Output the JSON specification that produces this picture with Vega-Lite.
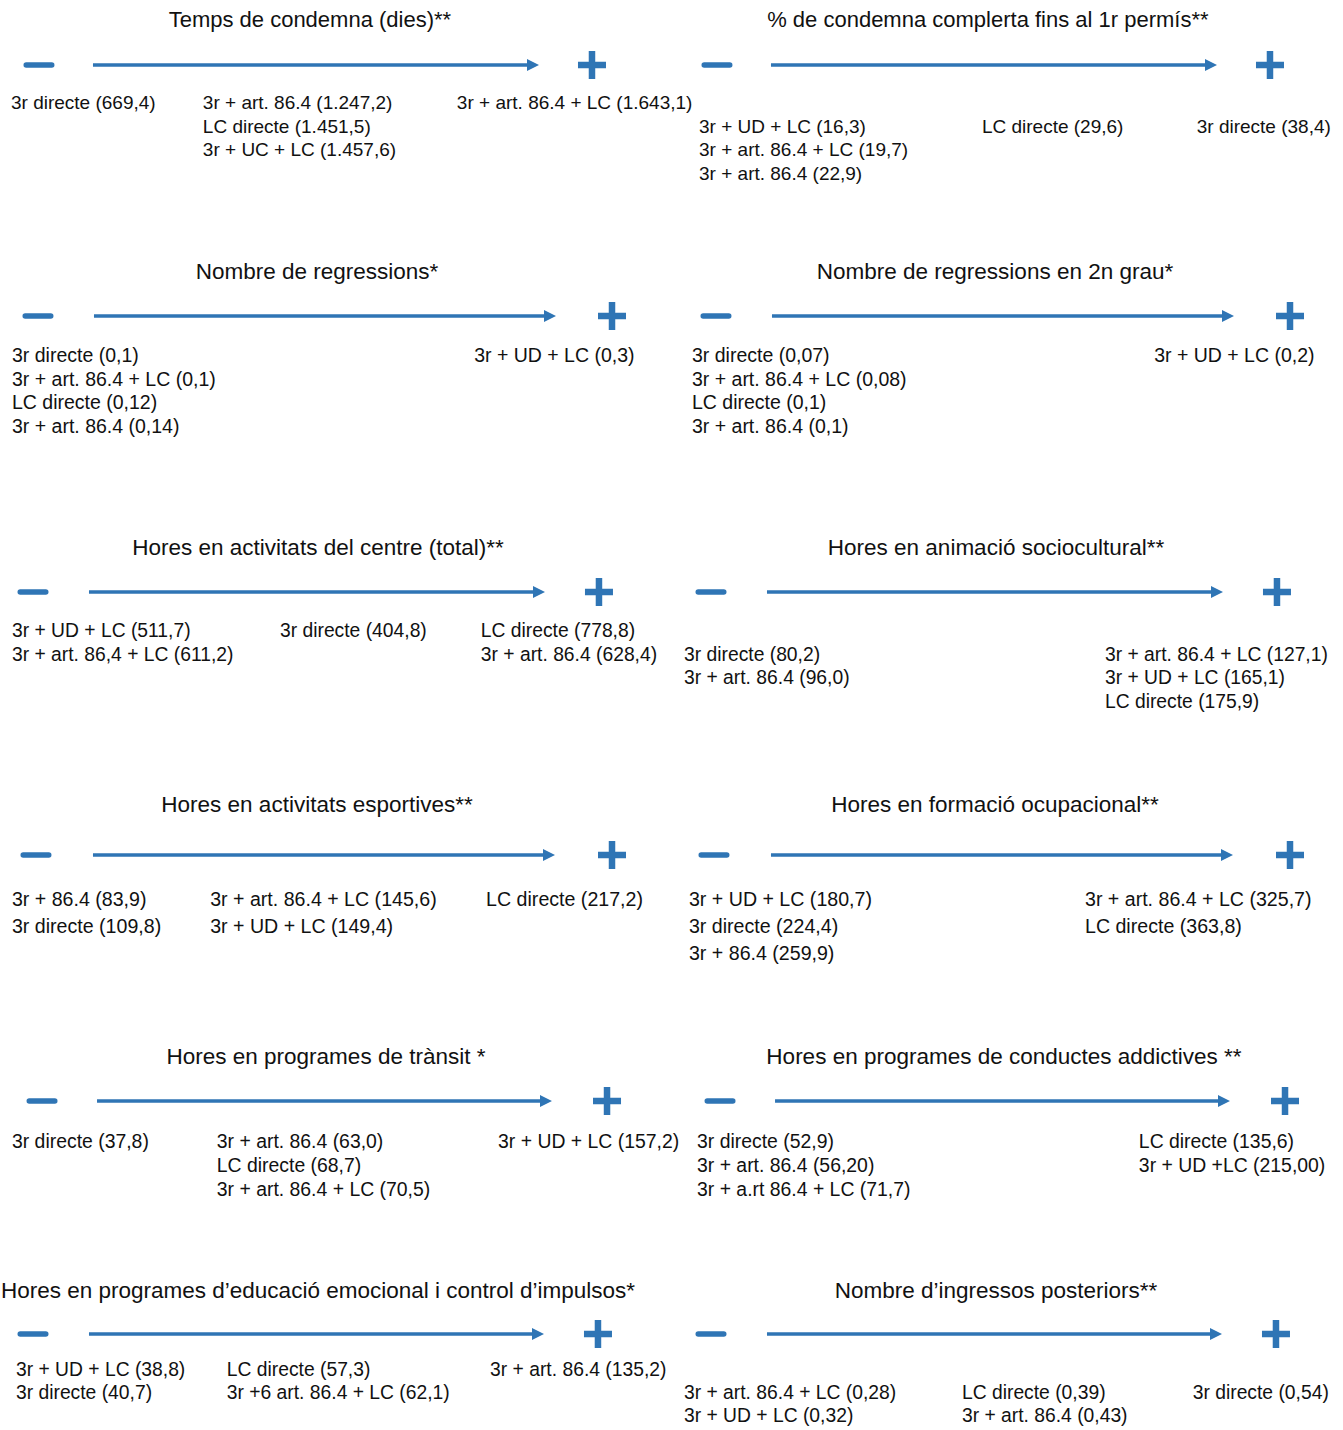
{
  "$schema": "https://vega.github.io/schema/vega-lite/v6.json",
  "padding": 0,
  "background": "white",
  "config": {"view": {"stroke": null}, "text": {"font": "Liberation Sans"}},
  "datasets": {
    "items": [
      {"kind": "panel", "panel": 1, "row": 1, "col": 1, "text": "Temps de condemna (dies)**"},
      {"kind": "panel", "panel": 2, "row": 1, "col": 2, "text": "% de condemna complerta fins al 1r permís**"},
      {"kind": "panel", "panel": 3, "row": 2, "col": 1, "text": "Nombre de regressions*"},
      {"kind": "panel", "panel": 4, "row": 2, "col": 2, "text": "Nombre de regressions en 2n grau*"},
      {"kind": "panel", "panel": 5, "row": 3, "col": 1, "text": "Hores en activitats del centre (total)**"},
      {"kind": "panel", "panel": 6, "row": 3, "col": 2, "text": "Hores en animació sociocultural**"},
      {"kind": "panel", "panel": 7, "row": 4, "col": 1, "text": "Hores en activitats esportives**"},
      {"kind": "panel", "panel": 8, "row": 4, "col": 2, "text": "Hores en formació ocupacional**"},
      {"kind": "panel", "panel": 9, "row": 5, "col": 1, "text": "Hores en programes de trànsit *"},
      {"kind": "panel", "panel": 10, "row": 5, "col": 2, "text": "Hores en programes de conductes addictives **"},
      {"kind": "panel", "panel": 11, "row": 6, "col": 1, "text": "Hores en programes d’educació emocional i control d’impulsos*"},
      {"kind": "panel", "panel": 12, "row": 6, "col": 2, "text": "Nombre d’ingressos posteriors**"},

      {"kind": "label", "panel": 1, "row": 1, "col": 1, "pos": 1.35, "line": 1, "text": "3r directe (669,4)"},
      {"kind": "label", "panel": 1, "row": 1, "col": 1, "pos": 30.2, "line": 1, "text": "3r + art. 86.4 (1.247,2)"},
      {"kind": "label", "panel": 1, "row": 1, "col": 1, "pos": 30.2, "line": 2, "text": "LC directe (1.451,5)"},
      {"kind": "label", "panel": 1, "row": 1, "col": 1, "pos": 30.2, "line": 3, "text": "3r + UC + LC (1.457,6)"},
      {"kind": "label", "panel": 1, "row": 1, "col": 1, "pos": 68.4, "line": 1, "text": "3r + art. 86.4 + LC (1.643,1)"},

      {"kind": "label", "panel": 2, "row": 1, "col": 2, "pos": 2.86, "line": 2, "text": "3r + UD + LC (16,3)"},
      {"kind": "label", "panel": 2, "row": 1, "col": 2, "pos": 2.86, "line": 3, "text": "3r + art. 86.4 + LC (19,7)"},
      {"kind": "label", "panel": 2, "row": 1, "col": 2, "pos": 2.86, "line": 4, "text": "3r + art. 86.4 (22,9)"},
      {"kind": "label", "panel": 2, "row": 1, "col": 2, "pos": 45.4, "line": 2, "text": "LC directe (29,6)"},
      {"kind": "label", "panel": 2, "row": 1, "col": 2, "pos": 77.7, "line": 2, "text": "3r directe (38,4)"},

      {"kind": "label", "panel": 3, "row": 2, "col": 1, "pos": 1.5, "line": 1, "text": "3r directe (0,1)"},
      {"kind": "label", "panel": 3, "row": 2, "col": 1, "pos": 1.5, "line": 2, "text": "3r + art. 86.4 + LC (0,1)"},
      {"kind": "label", "panel": 3, "row": 2, "col": 1, "pos": 1.5, "line": 3, "text": "LC directe (0,12)"},
      {"kind": "label", "panel": 3, "row": 2, "col": 1, "pos": 1.5, "line": 4, "text": "3r + art. 86.4 (0,14)"},
      {"kind": "label", "panel": 3, "row": 2, "col": 1, "pos": 71.0, "line": 1, "text": "3r + UD + LC (0,3)"},

      {"kind": "label", "panel": 4, "row": 2, "col": 2, "pos": 1.8, "line": 1, "text": "3r directe (0,07)"},
      {"kind": "label", "panel": 4, "row": 2, "col": 2, "pos": 1.8, "line": 2, "text": "3r + art. 86.4 + LC (0,08)"},
      {"kind": "label", "panel": 4, "row": 2, "col": 2, "pos": 1.8, "line": 3, "text": "LC directe (0,1)"},
      {"kind": "label", "panel": 4, "row": 2, "col": 2, "pos": 1.8, "line": 4, "text": "3r + art. 86.4 (0,1)"},
      {"kind": "label", "panel": 4, "row": 2, "col": 2, "pos": 71.3, "line": 1, "text": "3r + UD + LC (0,2)"},

      {"kind": "label", "panel": 5, "row": 3, "col": 1, "pos": 1.5, "line": 1, "text": "3r + UD + LC (511,7)"},
      {"kind": "label", "panel": 5, "row": 3, "col": 1, "pos": 1.5, "line": 2, "text": "3r + art. 86,4 + LC (611,2)"},
      {"kind": "label", "panel": 5, "row": 3, "col": 1, "pos": 41.8, "line": 1, "text": "3r directe (404,8)"},
      {"kind": "label", "panel": 5, "row": 3, "col": 1, "pos": 72.0, "line": 1, "text": "LC directe (778,8)"},
      {"kind": "label", "panel": 5, "row": 3, "col": 1, "pos": 72.0, "line": 2, "text": "3r + art. 86.4 (628,4)"},

      {"kind": "label", "panel": 6, "row": 3, "col": 2, "pos": 0.6, "line": 2, "text": "3r directe (80,2)"},
      {"kind": "label", "panel": 6, "row": 3, "col": 2, "pos": 0.6, "line": 3, "text": "3r + art. 86.4 (96,0)"},
      {"kind": "label", "panel": 6, "row": 3, "col": 2, "pos": 63.9, "line": 2, "text": "3r + art. 86.4 + LC (127,1)"},
      {"kind": "label", "panel": 6, "row": 3, "col": 2, "pos": 63.9, "line": 3, "text": "3r + UD + LC (165,1)"},
      {"kind": "label", "panel": 6, "row": 3, "col": 2, "pos": 63.9, "line": 4, "text": "LC directe (175,9)"},

      {"kind": "label", "panel": 7, "row": 4, "col": 1, "pos": 1.5, "line": 1, "text": "3r + 86.4 (83,9)"},
      {"kind": "label", "panel": 7, "row": 4, "col": 1, "pos": 1.5, "line": 2, "text": "3r directe (109,8)"},
      {"kind": "label", "panel": 7, "row": 4, "col": 1, "pos": 31.3, "line": 1, "text": "3r + art. 86.4 + LC (145,6)"},
      {"kind": "label", "panel": 7, "row": 4, "col": 1, "pos": 31.3, "line": 2, "text": "3r + UD + LC (149,4)"},
      {"kind": "label", "panel": 7, "row": 4, "col": 1, "pos": 72.8, "line": 1, "text": "LC directe (217,2)"},

      {"kind": "label", "panel": 8, "row": 4, "col": 2, "pos": 1.35, "line": 1, "text": "3r + UD + LC (180,7)"},
      {"kind": "label", "panel": 8, "row": 4, "col": 2, "pos": 1.35, "line": 2, "text": "3r directe (224,4)"},
      {"kind": "label", "panel": 8, "row": 4, "col": 2, "pos": 1.35, "line": 3, "text": "3r + 86.4 (259,9)"},
      {"kind": "label", "panel": 8, "row": 4, "col": 2, "pos": 60.9, "line": 1, "text": "3r + art. 86.4 + LC (325,7)"},
      {"kind": "label", "panel": 8, "row": 4, "col": 2, "pos": 60.9, "line": 2, "text": "LC directe (363,8)"},

      {"kind": "label", "panel": 9, "row": 5, "col": 1, "pos": 1.5, "line": 1, "text": "3r directe (37,8)"},
      {"kind": "label", "panel": 9, "row": 5, "col": 1, "pos": 32.3, "line": 1, "text": "3r + art. 86.4 (63,0)"},
      {"kind": "label", "panel": 9, "row": 5, "col": 1, "pos": 32.3, "line": 2, "text": "LC directe (68,7)"},
      {"kind": "label", "panel": 9, "row": 5, "col": 1, "pos": 32.3, "line": 3, "text": "3r + art. 86.4 + LC (70,5)"},
      {"kind": "label", "panel": 9, "row": 5, "col": 1, "pos": 74.6, "line": 1, "text": "3r + UD + LC (157,2)"},

      {"kind": "label", "panel": 10, "row": 5, "col": 2, "pos": 2.56, "line": 1, "text": "3r directe (52,9)"},
      {"kind": "label", "panel": 10, "row": 5, "col": 2, "pos": 2.56, "line": 2, "text": "3r + art. 86.4 (56,20)"},
      {"kind": "label", "panel": 10, "row": 5, "col": 2, "pos": 2.56, "line": 3, "text": "3r + a.rt 86.4 + LC (71,7)"},
      {"kind": "label", "panel": 10, "row": 5, "col": 2, "pos": 69.0, "line": 1, "text": "LC directe (135,6)"},
      {"kind": "label", "panel": 10, "row": 5, "col": 2, "pos": 69.0, "line": 2, "text": "3r + UD +LC (215,00)"},

      {"kind": "label", "panel": 11, "row": 6, "col": 1, "pos": 2.1, "line": 1, "text": "3r + UD + LC (38,8)"},
      {"kind": "label", "panel": 11, "row": 6, "col": 1, "pos": 2.1, "line": 2, "text": "3r directe (40,7)"},
      {"kind": "label", "panel": 11, "row": 6, "col": 1, "pos": 33.8, "line": 1, "text": "LC directe (57,3)"},
      {"kind": "label", "panel": 11, "row": 6, "col": 1, "pos": 33.8, "line": 2, "text": "3r +6 art. 86.4 + LC (62,1)"},
      {"kind": "label", "panel": 11, "row": 6, "col": 1, "pos": 73.4, "line": 1, "text": "3r + art. 86.4 (135,2)"},

      {"kind": "label", "panel": 12, "row": 6, "col": 2, "pos": 0.6, "line": 2, "text": "3r + art. 86.4 + LC (0,28)"},
      {"kind": "label", "panel": 12, "row": 6, "col": 2, "pos": 0.6, "line": 3, "text": "3r + UD + LC (0,32)"},
      {"kind": "label", "panel": 12, "row": 6, "col": 2, "pos": 42.4, "line": 2, "text": "LC directe (0,39)"},
      {"kind": "label", "panel": 12, "row": 6, "col": 2, "pos": 42.4, "line": 3, "text": "3r + art. 86.4 (0,43)"},
      {"kind": "label", "panel": 12, "row": 6, "col": 2, "pos": 77.1, "line": 2, "text": "3r directe (0,54)"}
    ]
  },
  "spacing": 0,
  "resolve": {"scale": {"x": "independent", "y": "independent"}},
  "vconcat": [
    {
      "data": {"name": "items"},
      "transform": [{"filter": "datum.row == 1"}],
      "facet": {"column": {"field": "col", "type": "ordinal", "header": null}},
      "spacing": 13,
      "bounds": "flush",
      "spec": {
        "width": 665, "height": 252,
        "layer": [
          {"transform": [{"filter": "datum.kind == 'panel'"}],
           "mark": {"type": "text", "align": "center", "baseline": "middle", "fontSize": 22, "color": "#111"},
           "encoding": {"x": {"datum": 46.3, "type": "quantitative", "scale": {"domain": [0, 100], "nice": false, "zero": false}, "axis": null},
                        "y": {"datum": -2.532, "type": "quantitative", "scale": {"domain": [-3.383, 7.34], "reverse": true, "nice": false, "zero": false}, "axis": null},
                        "text": {"field": "text"}}},
          {"transform": [{"filter": "datum.kind == 'panel'"}],
           "mark": {"type": "point", "shape": "M-1,0H1", "filled": false, "strokeWidth": 5.5, "strokeCap": "round", "size": 650, "color": "#2F75B5", "opacity": 1},
           "encoding": {"x": {"datum": 5.56, "type": "quantitative", "scale": {"domain": [0, 100], "nice": false, "zero": false}, "axis": null},
                        "y": {"datum": -0.617, "type": "quantitative", "scale": {"domain": [-3.383, 7.34], "reverse": true, "nice": false, "zero": false}, "axis": null}}},
          {"transform": [{"filter": "datum.kind == 'panel'"}],
           "mark": {"type": "rule", "strokeWidth": 3.5, "color": "#2F75B5"},
           "encoding": {"x": {"datum": 13.68, "type": "quantitative", "scale": {"domain": [0, 100], "nice": false, "zero": false}, "axis": null},
                        "x2": {"datum": 79.85},
                        "y": {"datum": -0.617, "type": "quantitative", "scale": {"domain": [-3.383, 7.34], "reverse": true, "nice": false, "zero": false}, "axis": null}}},
          {"transform": [{"filter": "datum.kind == 'panel'"}],
           "mark": {"type": "point", "shape": "M-1,-1L1,0L-1,1Z", "filled": true, "size": 144, "strokeWidth": 0, "color": "#2F75B5", "opacity": 1},
           "encoding": {"x": {"datum": 79.85, "type": "quantitative", "scale": {"domain": [0, 100], "nice": false, "zero": false}, "axis": null},
                        "y": {"datum": -0.617, "type": "quantitative", "scale": {"domain": [-3.383, 7.34], "reverse": true, "nice": false, "zero": false}, "axis": null}}},
          {"transform": [{"filter": "datum.kind == 'panel'"}],
           "mark": {"type": "point", "shape": "M-1,0H1M0,-1V1", "filled": false, "strokeWidth": 6.5, "size": 784, "color": "#2F75B5", "opacity": 1},
           "encoding": {"x": {"datum": 88.72, "type": "quantitative", "scale": {"domain": [0, 100], "nice": false, "zero": false}, "axis": null},
                        "y": {"datum": -0.617, "type": "quantitative", "scale": {"domain": [-3.383, 7.34], "reverse": true, "nice": false, "zero": false}, "axis": null}}},
          {"transform": [{"filter": "datum.kind == 'label'"}],
           "mark": {"type": "text", "align": "left", "baseline": "middle", "fontSize": 19, "color": "#111"},
           "encoding": {"x": {"field": "pos", "type": "quantitative", "scale": {"domain": [0, 100], "nice": false, "zero": false}, "axis": null},
                        "y": {"field": "line", "type": "quantitative", "scale": {"domain": [-3.383, 7.34], "reverse": true, "nice": false, "zero": false}, "axis": null},
                        "text": {"field": "text"}}}
        ]
      }
    },
    {
      "data": {"name": "items"},
      "transform": [{"filter": "datum.row == 2"}],
      "facet": {"column": {"field": "col", "type": "ordinal", "header": null}},
      "spacing": 13,
      "bounds": "flush",
      "spec": {
        "width": 665, "height": 276,
        "layer": [
          {"transform": [{"filter": "datum.kind == 'panel'"}],
           "mark": {"type": "text", "align": "center", "baseline": "middle", "fontSize": 22.5, "color": "#111"},
           "encoding": {"x": {"datum": 47.37, "type": "quantitative", "scale": {"domain": [0, 100], "nice": false, "zero": false}, "axis": null},
                        "y": {"datum": -2.544, "type": "quantitative", "scale": {"domain": [-3.388, 8.257], "reverse": true, "nice": false, "zero": false}, "axis": null},
                        "text": {"field": "text"}}},
          {"transform": [{"filter": "datum.kind == 'panel'"}],
           "mark": {"type": "point", "shape": "M-1,0H1", "filled": false, "strokeWidth": 5.5, "strokeCap": "round", "size": 650, "color": "#2F75B5", "opacity": 1},
           "encoding": {"x": {"datum": 5.41, "type": "quantitative", "scale": {"domain": [0, 100], "nice": false, "zero": false}, "axis": null},
                        "y": {"datum": -0.688, "type": "quantitative", "scale": {"domain": [-3.388, 8.257], "reverse": true, "nice": false, "zero": false}, "axis": null}}},
          {"transform": [{"filter": "datum.kind == 'panel'"}],
           "mark": {"type": "rule", "strokeWidth": 3.5, "color": "#2F75B5"},
           "encoding": {"x": {"datum": 13.83, "type": "quantitative", "scale": {"domain": [0, 100], "nice": false, "zero": false}, "axis": null},
                        "x2": {"datum": 82.41},
                        "y": {"datum": -0.688, "type": "quantitative", "scale": {"domain": [-3.388, 8.257], "reverse": true, "nice": false, "zero": false}, "axis": null}}},
          {"transform": [{"filter": "datum.kind == 'panel'"}],
           "mark": {"type": "point", "shape": "M-1,-1L1,0L-1,1Z", "filled": true, "size": 144, "strokeWidth": 0, "color": "#2F75B5", "opacity": 1},
           "encoding": {"x": {"datum": 82.41, "type": "quantitative", "scale": {"domain": [0, 100], "nice": false, "zero": false}, "axis": null},
                        "y": {"datum": -0.688, "type": "quantitative", "scale": {"domain": [-3.388, 8.257], "reverse": true, "nice": false, "zero": false}, "axis": null}}},
          {"transform": [{"filter": "datum.kind == 'panel'"}],
           "mark": {"type": "point", "shape": "M-1,0H1M0,-1V1", "filled": false, "strokeWidth": 6.5, "size": 784, "color": "#2F75B5", "opacity": 1},
           "encoding": {"x": {"datum": 91.73, "type": "quantitative", "scale": {"domain": [0, 100], "nice": false, "zero": false}, "axis": null},
                        "y": {"datum": -0.688, "type": "quantitative", "scale": {"domain": [-3.388, 8.257], "reverse": true, "nice": false, "zero": false}, "axis": null}}},
          {"transform": [{"filter": "datum.kind == 'label'"}],
           "mark": {"type": "text", "align": "left", "baseline": "middle", "fontSize": 19.5, "color": "#111"},
           "encoding": {"x": {"field": "pos", "type": "quantitative", "scale": {"domain": [0, 100], "nice": false, "zero": false}, "axis": null},
                        "y": {"field": "line", "type": "quantitative", "scale": {"domain": [-3.388, 8.257], "reverse": true, "nice": false, "zero": false}, "axis": null},
                        "text": {"field": "text"}}}
        ]
      }
    },
    {
      "data": {"name": "items"},
      "transform": [{"filter": "datum.row == 3"}],
      "facet": {"column": {"field": "col", "type": "ordinal", "header": null}},
      "spacing": 13,
      "bounds": "flush",
      "spec": {
        "width": 665, "height": 257,
        "layer": [
          {"transform": [{"filter": "datum.kind == 'panel'"}],
           "mark": {"type": "text", "align": "center", "baseline": "middle", "fontSize": 22.5, "color": "#111"},
           "encoding": {"x": {"datum": 47.52, "type": "quantitative", "scale": {"domain": [0, 100], "nice": false, "zero": false}, "axis": null},
                        "y": {"datum": -2.532, "type": "quantitative", "scale": {"domain": [-3.383, 7.553], "reverse": true, "nice": false, "zero": false}, "axis": null},
                        "text": {"field": "text"}}},
          {"transform": [{"filter": "datum.kind == 'panel'"}],
           "mark": {"type": "point", "shape": "M-1,0H1", "filled": false, "strokeWidth": 5.5, "strokeCap": "round", "size": 650, "color": "#2F75B5", "opacity": 1},
           "encoding": {"x": {"datum": 4.66, "type": "quantitative", "scale": {"domain": [0, 100], "nice": false, "zero": false}, "axis": null},
                        "y": {"datum": -0.66, "type": "quantitative", "scale": {"domain": [-3.383, 7.553], "reverse": true, "nice": false, "zero": false}, "axis": null}}},
          {"transform": [{"filter": "datum.kind == 'panel'"}],
           "mark": {"type": "rule", "strokeWidth": 3.5, "color": "#2F75B5"},
           "encoding": {"x": {"datum": 13.08, "type": "quantitative", "scale": {"domain": [0, 100], "nice": false, "zero": false}, "axis": null},
                        "x2": {"datum": 80.75},
                        "y": {"datum": -0.66, "type": "quantitative", "scale": {"domain": [-3.383, 7.553], "reverse": true, "nice": false, "zero": false}, "axis": null}}},
          {"transform": [{"filter": "datum.kind == 'panel'"}],
           "mark": {"type": "point", "shape": "M-1,-1L1,0L-1,1Z", "filled": true, "size": 144, "strokeWidth": 0, "color": "#2F75B5", "opacity": 1},
           "encoding": {"x": {"datum": 80.75, "type": "quantitative", "scale": {"domain": [0, 100], "nice": false, "zero": false}, "axis": null},
                        "y": {"datum": -0.66, "type": "quantitative", "scale": {"domain": [-3.383, 7.553], "reverse": true, "nice": false, "zero": false}, "axis": null}}},
          {"transform": [{"filter": "datum.kind == 'panel'"}],
           "mark": {"type": "point", "shape": "M-1,0H1M0,-1V1", "filled": false, "strokeWidth": 6.5, "size": 784, "color": "#2F75B5", "opacity": 1},
           "encoding": {"x": {"datum": 89.77, "type": "quantitative", "scale": {"domain": [0, 100], "nice": false, "zero": false}, "axis": null},
                        "y": {"datum": -0.66, "type": "quantitative", "scale": {"domain": [-3.383, 7.553], "reverse": true, "nice": false, "zero": false}, "axis": null}}},
          {"transform": [{"filter": "datum.kind == 'label'"}],
           "mark": {"type": "text", "align": "left", "baseline": "middle", "fontSize": 19.3, "color": "#111"},
           "encoding": {"x": {"field": "pos", "type": "quantitative", "scale": {"domain": [0, 100], "nice": false, "zero": false}, "axis": null},
                        "y": {"field": "line", "type": "quantitative", "scale": {"domain": [-3.383, 7.553], "reverse": true, "nice": false, "zero": false}, "axis": null},
                        "text": {"field": "text"}}}
        ]
      }
    },
    {
      "data": {"name": "items"},
      "transform": [{"filter": "datum.row == 4"}],
      "facet": {"column": {"field": "col", "type": "ordinal", "header": null}},
      "spacing": 13,
      "bounds": "flush",
      "spec": {
        "width": 665, "height": 252,
        "layer": [
          {"transform": [{"filter": "datum.kind == 'panel'"}],
           "mark": {"type": "text", "align": "center", "baseline": "middle", "fontSize": 22.5, "color": "#111"},
           "encoding": {"x": {"datum": 47.37, "type": "quantitative", "scale": {"domain": [0, 100], "nice": false, "zero": false}, "axis": null},
                        "y": {"datum": -2.519, "type": "quantitative", "scale": {"domain": [-3.259, 6.074], "reverse": true, "nice": false, "zero": false}, "axis": null},
                        "text": {"field": "text"}}},
          {"transform": [{"filter": "datum.kind == 'panel'"}],
           "mark": {"type": "point", "shape": "M-1,0H1", "filled": false, "strokeWidth": 5.5, "strokeCap": "round", "size": 650, "color": "#2F75B5", "opacity": 1},
           "encoding": {"x": {"datum": 5.11, "type": "quantitative", "scale": {"domain": [0, 100], "nice": false, "zero": false}, "axis": null},
                        "y": {"datum": -0.667, "type": "quantitative", "scale": {"domain": [-3.259, 6.074], "reverse": true, "nice": false, "zero": false}, "axis": null}}},
          {"transform": [{"filter": "datum.kind == 'panel'"}],
           "mark": {"type": "rule", "strokeWidth": 3.5, "color": "#2F75B5"},
           "encoding": {"x": {"datum": 13.68, "type": "quantitative", "scale": {"domain": [0, 100], "nice": false, "zero": false}, "axis": null},
                        "x2": {"datum": 82.26},
                        "y": {"datum": -0.667, "type": "quantitative", "scale": {"domain": [-3.259, 6.074], "reverse": true, "nice": false, "zero": false}, "axis": null}}},
          {"transform": [{"filter": "datum.kind == 'panel'"}],
           "mark": {"type": "point", "shape": "M-1,-1L1,0L-1,1Z", "filled": true, "size": 144, "strokeWidth": 0, "color": "#2F75B5", "opacity": 1},
           "encoding": {"x": {"datum": 82.26, "type": "quantitative", "scale": {"domain": [0, 100], "nice": false, "zero": false}, "axis": null},
                        "y": {"datum": -0.667, "type": "quantitative", "scale": {"domain": [-3.259, 6.074], "reverse": true, "nice": false, "zero": false}, "axis": null}}},
          {"transform": [{"filter": "datum.kind == 'panel'"}],
           "mark": {"type": "point", "shape": "M-1,0H1M0,-1V1", "filled": false, "strokeWidth": 6.5, "size": 784, "color": "#2F75B5", "opacity": 1},
           "encoding": {"x": {"datum": 91.73, "type": "quantitative", "scale": {"domain": [0, 100], "nice": false, "zero": false}, "axis": null},
                        "y": {"datum": -0.667, "type": "quantitative", "scale": {"domain": [-3.259, 6.074], "reverse": true, "nice": false, "zero": false}, "axis": null}}},
          {"transform": [{"filter": "datum.kind == 'label'"}],
           "mark": {"type": "text", "align": "left", "baseline": "middle", "fontSize": 19.6, "color": "#111"},
           "encoding": {"x": {"field": "pos", "type": "quantitative", "scale": {"domain": [0, 100], "nice": false, "zero": false}, "axis": null},
                        "y": {"field": "line", "type": "quantitative", "scale": {"domain": [-3.259, 6.074], "reverse": true, "nice": false, "zero": false}, "axis": null},
                        "text": {"field": "text"}}}
        ]
      }
    },
    {
      "data": {"name": "items"},
      "transform": [{"filter": "datum.row == 5"}],
      "facet": {"column": {"field": "col", "type": "ordinal", "header": null}},
      "spacing": 13,
      "bounds": "flush",
      "spec": {
        "width": 665, "height": 234,
        "layer": [
          {"transform": [{"filter": "datum.kind == 'panel'"}],
           "mark": {"type": "text", "align": "center", "baseline": "middle", "fontSize": 22.5, "color": "#111"},
           "encoding": {"x": {"datum": 48.72, "type": "quantitative", "scale": {"domain": [0, 100], "nice": false, "zero": false}, "axis": null},
                        "y": {"datum": -2.542, "type": "quantitative", "scale": {"domain": [-3.375, 6.375], "reverse": true, "nice": false, "zero": false}, "axis": null},
                        "text": {"field": "text"}}},
          {"transform": [{"filter": "datum.kind == 'panel'"}],
           "mark": {"type": "point", "shape": "M-1,0H1", "filled": false, "strokeWidth": 5.5, "strokeCap": "round", "size": 650, "color": "#2F75B5", "opacity": 1},
           "encoding": {"x": {"datum": 6.02, "type": "quantitative", "scale": {"domain": [0, 100], "nice": false, "zero": false}, "axis": null},
                        "y": {"datum": -0.708, "type": "quantitative", "scale": {"domain": [-3.375, 6.375], "reverse": true, "nice": false, "zero": false}, "axis": null}}},
          {"transform": [{"filter": "datum.kind == 'panel'"}],
           "mark": {"type": "rule", "strokeWidth": 3.5, "color": "#2F75B5"},
           "encoding": {"x": {"datum": 14.29, "type": "quantitative", "scale": {"domain": [0, 100], "nice": false, "zero": false}, "axis": null},
                        "x2": {"datum": 81.8},
                        "y": {"datum": -0.708, "type": "quantitative", "scale": {"domain": [-3.375, 6.375], "reverse": true, "nice": false, "zero": false}, "axis": null}}},
          {"transform": [{"filter": "datum.kind == 'panel'"}],
           "mark": {"type": "point", "shape": "M-1,-1L1,0L-1,1Z", "filled": true, "size": 144, "strokeWidth": 0, "color": "#2F75B5", "opacity": 1},
           "encoding": {"x": {"datum": 81.8, "type": "quantitative", "scale": {"domain": [0, 100], "nice": false, "zero": false}, "axis": null},
                        "y": {"datum": -0.708, "type": "quantitative", "scale": {"domain": [-3.375, 6.375], "reverse": true, "nice": false, "zero": false}, "axis": null}}},
          {"transform": [{"filter": "datum.kind == 'panel'"}],
           "mark": {"type": "point", "shape": "M-1,0H1M0,-1V1", "filled": false, "strokeWidth": 6.5, "size": 784, "color": "#2F75B5", "opacity": 1},
           "encoding": {"x": {"datum": 90.98, "type": "quantitative", "scale": {"domain": [0, 100], "nice": false, "zero": false}, "axis": null},
                        "y": {"datum": -0.708, "type": "quantitative", "scale": {"domain": [-3.375, 6.375], "reverse": true, "nice": false, "zero": false}, "axis": null}}},
          {"transform": [{"filter": "datum.kind == 'label'"}],
           "mark": {"type": "text", "align": "left", "baseline": "middle", "fontSize": 19.4, "color": "#111"},
           "encoding": {"x": {"field": "pos", "type": "quantitative", "scale": {"domain": [0, 100], "nice": false, "zero": false}, "axis": null},
                        "y": {"field": "line", "type": "quantitative", "scale": {"domain": [-3.375, 6.375], "reverse": true, "nice": false, "zero": false}, "axis": null},
                        "text": {"field": "text"}}}
        ]
      }
    },
    {
      "data": {"name": "items"},
      "transform": [{"filter": "datum.row == 6"}],
      "facet": {"column": {"field": "col", "type": "ordinal", "header": null}},
      "spacing": 13,
      "bounds": "flush",
      "spec": {
        "width": 665, "height": 159,
        "layer": [
          {"transform": [{"filter": "datum.kind == 'panel'"}],
           "mark": {"type": "text", "align": "center", "baseline": "middle", "fontSize": 22.5, "color": "#111"},
           "encoding": {"x": {"datum": 47.52, "type": "quantitative", "scale": {"domain": [0, 100], "nice": false, "zero": false}, "axis": null},
                        "y": {"datum": -2.435, "type": "quantitative", "scale": {"domain": [-3.304, 3.609], "reverse": true, "nice": false, "zero": false}, "axis": null},
                        "text": {"field": "text"}}},
          {"transform": [{"filter": "datum.kind == 'panel'"}],
           "mark": {"type": "point", "shape": "M-1,0H1", "filled": false, "strokeWidth": 5.5, "strokeCap": "round", "size": 650, "color": "#2F75B5", "opacity": 1},
           "encoding": {"x": {"datum": 4.66, "type": "quantitative", "scale": {"domain": [0, 100], "nice": false, "zero": false}, "axis": null},
                        "y": {"datum": -0.565, "type": "quantitative", "scale": {"domain": [-3.304, 3.609], "reverse": true, "nice": false, "zero": false}, "axis": null}}},
          {"transform": [{"filter": "datum.kind == 'panel'"}],
           "mark": {"type": "rule", "strokeWidth": 3.5, "color": "#2F75B5"},
           "encoding": {"x": {"datum": 13.08, "type": "quantitative", "scale": {"domain": [0, 100], "nice": false, "zero": false}, "axis": null},
                        "x2": {"datum": 80.6},
                        "y": {"datum": -0.565, "type": "quantitative", "scale": {"domain": [-3.304, 3.609], "reverse": true, "nice": false, "zero": false}, "axis": null}}},
          {"transform": [{"filter": "datum.kind == 'panel'"}],
           "mark": {"type": "point", "shape": "M-1,-1L1,0L-1,1Z", "filled": true, "size": 144, "strokeWidth": 0, "color": "#2F75B5", "opacity": 1},
           "encoding": {"x": {"datum": 80.6, "type": "quantitative", "scale": {"domain": [0, 100], "nice": false, "zero": false}, "axis": null},
                        "y": {"datum": -0.565, "type": "quantitative", "scale": {"domain": [-3.304, 3.609], "reverse": true, "nice": false, "zero": false}, "axis": null}}},
          {"transform": [{"filter": "datum.kind == 'panel'"}],
           "mark": {"type": "point", "shape": "M-1,0H1M0,-1V1", "filled": false, "strokeWidth": 6.5, "size": 784, "color": "#2F75B5", "opacity": 1},
           "encoding": {"x": {"datum": 89.62, "type": "quantitative", "scale": {"domain": [0, 100], "nice": false, "zero": false}, "axis": null},
                        "y": {"datum": -0.565, "type": "quantitative", "scale": {"domain": [-3.304, 3.609], "reverse": true, "nice": false, "zero": false}, "axis": null}}},
          {"transform": [{"filter": "datum.kind == 'label'"}],
           "mark": {"type": "text", "align": "left", "baseline": "middle", "fontSize": 19.3, "color": "#111"},
           "encoding": {"x": {"field": "pos", "type": "quantitative", "scale": {"domain": [0, 100], "nice": false, "zero": false}, "axis": null},
                        "y": {"field": "line", "type": "quantitative", "scale": {"domain": [-3.304, 3.609], "reverse": true, "nice": false, "zero": false}, "axis": null},
                        "text": {"field": "text"}}}
        ]
      }
    }
  ]
}
